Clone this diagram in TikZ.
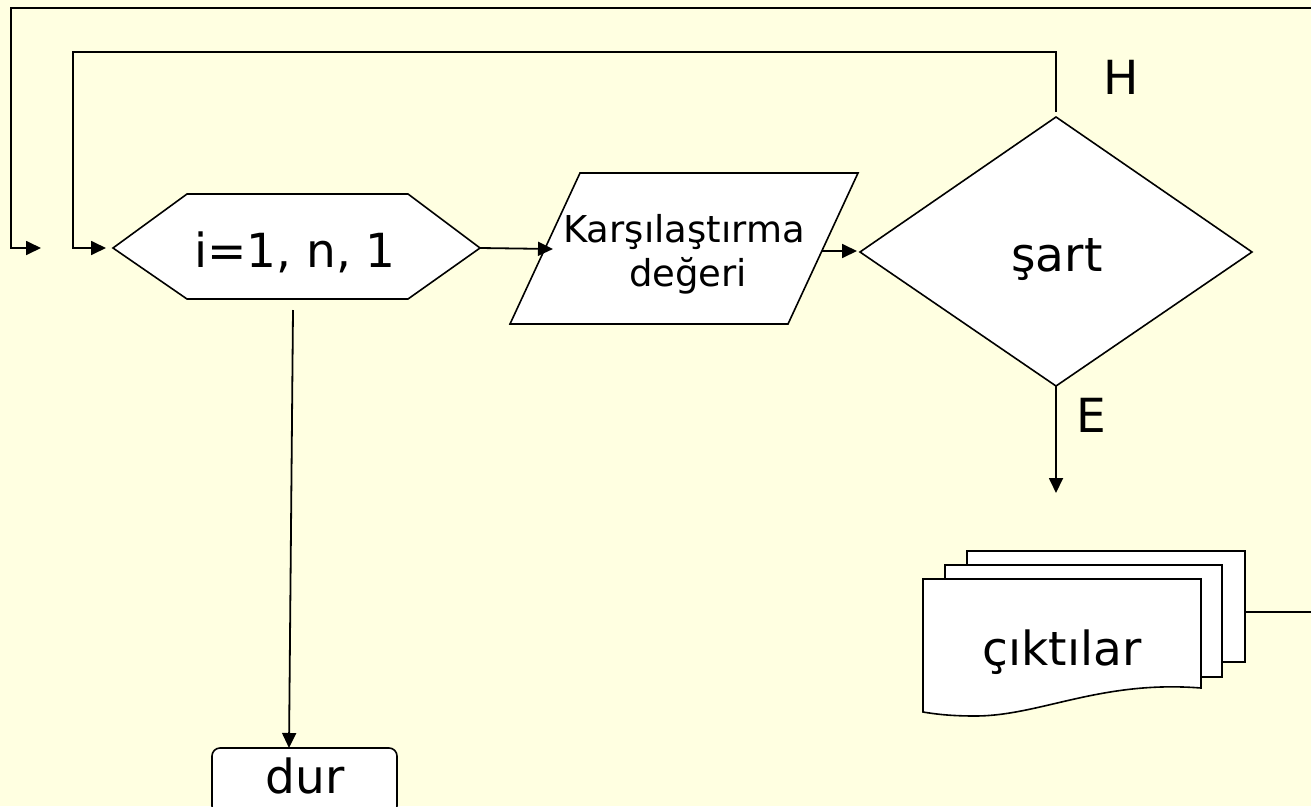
\documentclass[tikz,border=0pt]{standalone}
\usepackage{fontspec}
\setmainfont{DejaVu Sans}
\usetikzlibrary{arrows.meta}
\definecolor{bg}{RGB}{255,255,225}
\begin{document}
\begin{tikzpicture}[x=1pt,y=-1pt,
  shapeline/.style={draw=black,line width=1.6pt,fill=white,line join=miter},
  conn/.style={line width=1.8pt,-{Triangle[length=15pt,width=14pt]}},
  big/.style={font=\fontsize{47}{52}\selectfont,anchor=base,inner sep=0pt},
  mid/.style={font=\fontsize{37}{44}\selectfont,anchor=base,inner sep=0pt}]
\fill[bg] (0,0) rectangle (1311,806);
\useasboundingbox (0,0) rectangle (1311,806);
\clip (0,0) rectangle (1311,806);

% loop hexagon
\draw[shapeline] (113,248) -- (187,194) -- (408,194) -- (480,248) -- (408,299) -- (187,299) -- cycle;
\coordinate (loopW) at (113,248);
\coordinate (loopE) at (480,248);
\coordinate (loopS) at (293,310);
\node[big] (looptext) at (295,267) {i=1, n, 1};

% input parallelogram
\draw[shapeline] (580,173) -- (858,173) -- (788,324) -- (510,324) -- cycle;
\coordinate (inW) at (553,249);
\coordinate (inE) at (822,251);
\node[mid] (intext1) at (684,242) {Karşılaştırma};
\node[mid] (intext2) at (688,286) {değeri};

% condition diamond
\draw[shapeline] (1056,117) -- (1252,252) -- (1056,386) -- (860,252) -- cycle;
\coordinate (condN) at (1056,112);
\coordinate (condW) at (857,251);
\coordinate (condS) at (1056,386);
\node[big] (condtext) at (1057,271) {şart};
\node[big] (hlabel) at (1121,94) {H};
\node[big] (elabel) at (1091,432) {E};

% output documents
\draw[shapeline] (967,551) rectangle (1245,662);
\draw[shapeline] (945,565) rectangle (1222,677);
\draw[shapeline] (923,579) -- (1201,579) -- (1201,688)
  .. controls (1100,680) and (1040,716) .. (975,716)
  .. controls (950,716) and (935,714) .. (923,712) -- cycle;
\coordinate (docE) at (1245,612);
\node[big] (doctext) at (1062,665) {çıktılar};

% stop
\draw[shapeline,rounded corners=8pt] (212,748) rectangle (397,814);
\coordinate (stopN) at (289,748);
\node[big] (stoptext) at (305,793) {dur};

% free ends
\coordinate (outerEnd) at (41,248);
\coordinate (condOut) at (1056,493);

% connectors
\draw[conn] (loopE) -- (inW);
\draw[conn] (inE) -- (condW);
\draw[conn] (condS) -- (condOut);
\draw[conn] (loopS) -- (stopN);
\draw[conn,shorten >=7pt] (condN) -- (1056,52) -- (73,52) -- (73,248) -- (loopW);
\draw[conn] (docE) -- (1318,612) -- (1318,8) -- (11,8) -- (11,248) -- (outerEnd);
\end{tikzpicture}
\end{document}
